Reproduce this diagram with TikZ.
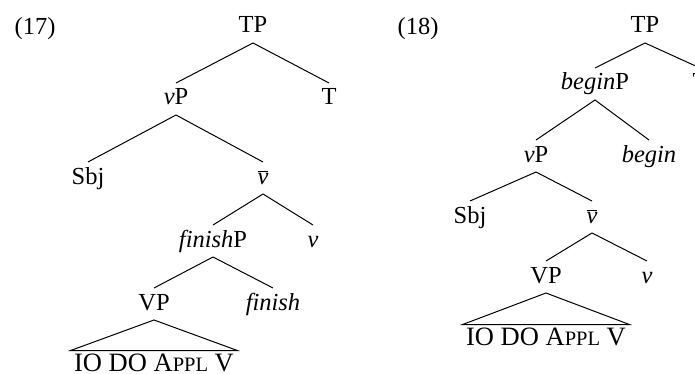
\documentclass[tikz,border=0pt]{standalone}
\usepackage{fontspec}
\setmainfont{Liberation Serif}
\usepackage{tikz}
\tikzset{cat/.style = {font=\fontsize{24.5}{29}\selectfont,
                       inner sep=4.5pt, text height=17pt, text depth=5pt,
                       anchor=base},
         yield/.style = {cat, font=\fontsize{26.5}{31}\selectfont,
                         inner sep=3pt}}
\newcommand{\vbar}{$\overline{\mbox{\itshape v}}$}
\newcommand{\appl}{A{\fontsize{20.5}{24}\selectfont PPL}}

\begin{document}
\begin{tikzpicture}[x=1pt, y=-1pt, line width=1pt]
    \useasboundingbox (0, 0) rectangle (695, 374);
    \node [cat] (ex17) at (35, 35) {(17)};
    \node [cat] (tp17) at (253, 33) {TP};
    \node [cat] (vp17) at (176, 105) {\textit{v}P};
    \node [cat] (t17) at (329, 105) {T};
    \node [cat] (sbj17) at (88, 184) {Sbj};
    \node [cat] (vbar17) at (263, 184) {\vbar};
    \node [cat] (finishp17) at (213, 247) {\textit{finish}P};
    \node [cat] (v17) at (313, 247) {\textit{v}};
    \node [cat] (vpp17) at (154, 310) {VP};
    \node [cat] (finish17) at (273, 310) {\textit{finish}};
    \node [yield] (io17) at (154, 371) {IO DO \appl{} V};
    \draw (tp17.south) -- (vp17.north);
    \draw (tp17.south) -- (t17.north);
    \draw (vp17.south) -- (sbj17.north);
    \draw (vp17.south) -- (vbar17.north);
    \draw (vbar17.south) -- (finishp17.north);
    \draw (vbar17.south) -- (v17.north);
    \draw (finishp17.south) -- (vpp17.north);
    \draw (finishp17.south) -- (finish17.north);
    \draw (vpp17.south) -- (io17.north west) -- (io17.north east) -- cycle;
    \node [cat] (ex18) at (418, 35) {(18)};
    \node [cat] (tp18) at (645, 33) {TP};
    \node [cat] (t18) at (700, 90) {T};
    \node [cat] (beginp18) at (595, 90) {\textit{begin}P};
    \node [cat] (vp18) at (536, 162) {\textit{v}P};
    \node [cat] (begin18) at (649, 162) {\textit{begin}};
    \node [cat] (sbj18) at (470, 223) {Sbj};
    \node [cat] (vbar18) at (592, 223) {\vbar};
    \node [cat] (vpp18) at (546, 283) {VP};
    \node [cat] (v18) at (647, 283) {\textit{v}};
    \node [yield] (io18) at (546, 345) {IO DO \appl{} V};
    \draw (tp18.south) -- (beginp18.north);
    \draw (tp18.south) -- (t18.north);
    \draw (beginp18.south) -- (vp18.north);
    \draw (beginp18.south) -- (begin18.north);
    \draw (vp18.south) -- (sbj18.north);
    \draw (vp18.south) -- (vbar18.north);
    \draw (vbar18.south) -- (vpp18.north);
    \draw (vbar18.south) -- (v18.north);
    \draw (vpp18.south) -- (io18.north west) -- (io18.north east) -- cycle;
\end{tikzpicture}
\end{document}
